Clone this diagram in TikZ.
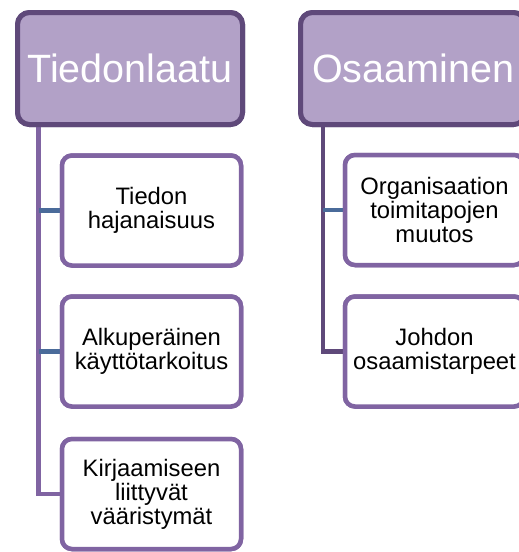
\documentclass[tikz,border=0pt]{standalone}
\usepackage{fontspec}
\setmainfont{Liberation Sans}
\usetikzlibrary{calc}
\definecolor{lilac}{HTML}{B2A1C7}
\definecolor{darkpurple}{HTML}{5F497A}
\definecolor{midpurple}{HTML}{8064A2}
\definecolor{stubblue}{HTML}{4A6B9A}
\tikzset{
  header/.style={draw=darkpurple, line width=5pt, fill=lilac, rounded corners=12pt,
    minimum width=225pt, minimum height=112pt, text=white, inner sep=0pt,
    font=\fontsize{39.5}{40}\selectfont},
  child/.style={draw=midpurple, line width=4.5pt, fill=white, rounded corners=10pt,
    minimum width=179pt, minimum height=110pt, align=center, inner sep=0pt,
    font=\fontsize{23.8}{24}\selectfont},
  trunkL/.style={draw=midpurple, line width=4.5pt},
  trunkR/.style={draw=darkpurple, line width=4.5pt},
  stub/.style={draw=stubblue, line width=4.5pt},
}
\begin{document}
\begin{tikzpicture}[x=1pt, y=-1pt]
\clip (0,0) rectangle (519,552);
\fill[white] (0,0) rectangle (519,552);
% nodes
\node[header] (h1) at (130,68.5) {Tiedonlaatu};
\node[header] (h2) at (413,68.5) {Osaaminen};
\node[child] (a1) at (151.5,210.5) {Tiedon\\hajanaisuus};
\node[child] (a2) at (151.5,351.5) {Alkuperäinen\\käyttötarkoitus};
\node[child] (a3) at (151.5,494) {Kirjaamiseen\\liittyvät\\vääristymät};
\node[child] (b1) at (434.5,210) {Organisaation\\toimitapojen\\muutos};
\node[child] (b2) at (434.5,351.5) {Johdon\\osaamistarpeet};
% connector coordinates
\coordinate (tl) at (38.5,127);
\coordinate (tr) at (323,127);
% left trunk
\draw[trunkL] (tl) -- (tl |- a3.west) -- (a3.west);
\draw[stub] (tl |- a1.west) -- (a1.west);
\draw[stub] (tl |- a2.west) -- (a2.west);
% right trunk
\draw[trunkR] (tr) -- (tr |- b2.west) -- (b2.west);
\draw[stub] (tr |- b1.west) -- (b1.west);
% redraw boxes on top
\node[header] at (h1) {Tiedonlaatu};
\node[header] at (h2) {Osaaminen};
\node[child] at (a1) {Tiedon\\hajanaisuus};
\node[child] at (a2) {Alkuperäinen\\käyttötarkoitus};
\node[child] at (a3) {Kirjaamiseen\\liittyvät\\vääristymät};
\node[child] at (b1) {Organisaation\\toimitapojen\\muutos};
\node[child] at (b2) {Johdon\\osaamistarpeet};
\end{tikzpicture}
\end{document}
